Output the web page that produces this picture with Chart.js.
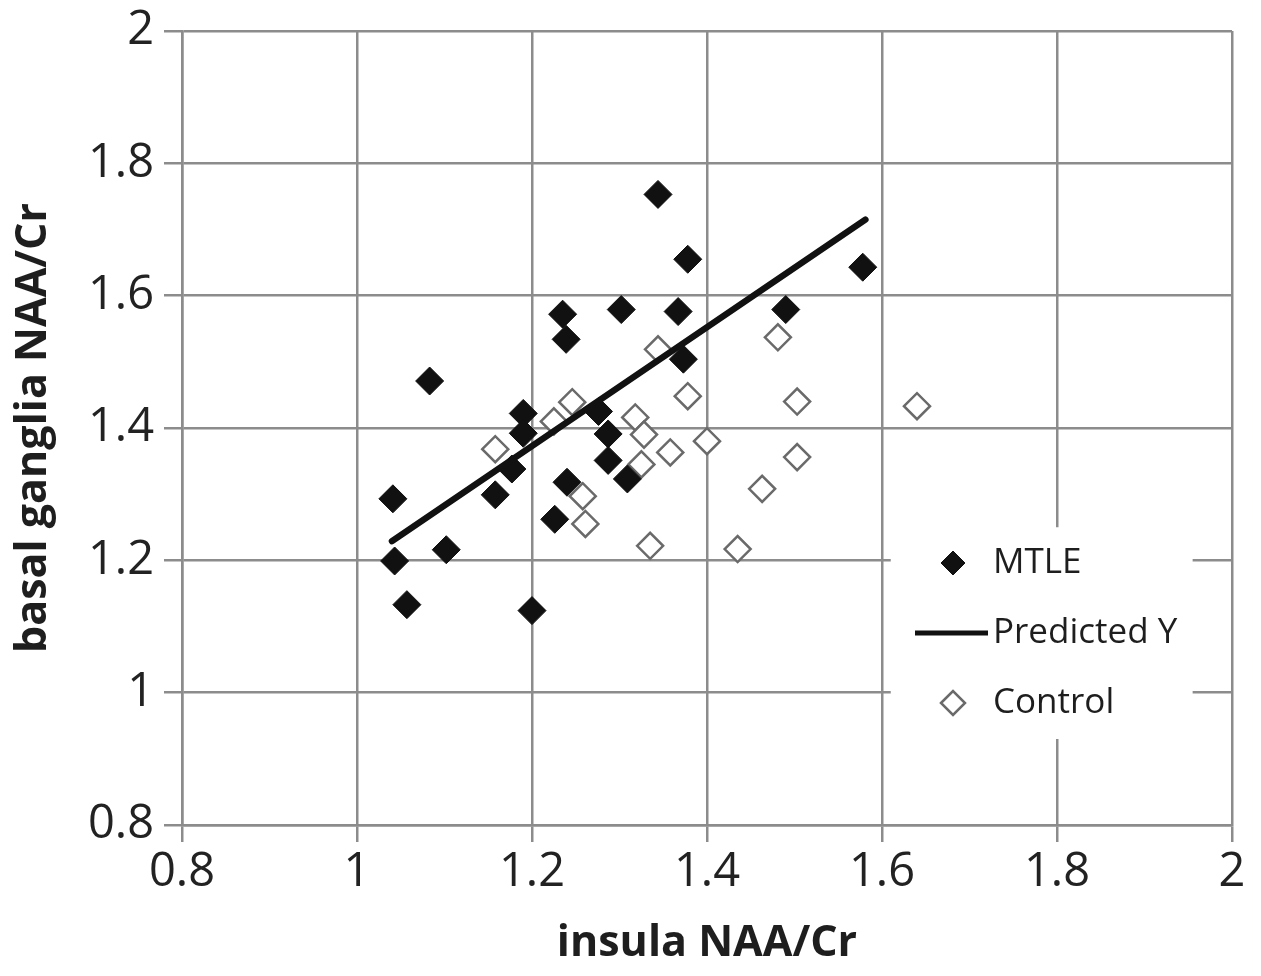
<!DOCTYPE html>
<html>
<head>
<meta charset="utf-8">
<script src="https://cdn.jsdelivr.net/npm/chart.js@4.4.1/dist/chart.umd.min.js"></script>
<style>
  html, body { margin: 0; padding: 0; background: #fff; }
  #wrap { width: 1261px; height: 976px; position: relative; }
</style>
</head>
<body>
<div id="wrap"><canvas id="chart"></canvas></div>
<script>
// MTLE patients (filled diamonds)
var mtleX = [1.041, 1.043, 1.057, 1.083, 1.102, 1.158, 1.177, 1.190, 1.190, 1.200, 1.226, 1.235, 1.239,
             1.240, 1.276, 1.287, 1.287, 1.302, 1.309, 1.344, 1.367, 1.373, 1.378, 1.490, 1.578];
var mtleY = [1.293, 1.199, 1.133, 1.471, 1.216, 1.299, 1.338, 1.422, 1.392, 1.124, 1.262, 1.572, 1.534,
             1.318, 1.425, 1.391, 1.351, 1.579, 1.323, 1.753, 1.576, 1.504, 1.655, 1.579, 1.643];

// Controls (open diamonds)
var controlX = [1.158, 1.225, 1.246, 1.258, 1.261, 1.318, 1.328, 1.325, 1.358, 1.400, 1.344, 1.378,
                1.481, 1.503, 1.503, 1.463, 1.335, 1.435, 1.640];
var controlY = [1.368, 1.410, 1.439, 1.297, 1.255, 1.416, 1.390, 1.345, 1.363, 1.380, 1.519, 1.448,
                1.537, 1.440, 1.356, 1.308, 1.222, 1.217, 1.433];

// Regression line ends (Predicted Y)
var predX = [1.040, 1.581];
var predY = [1.229, 1.715];

var axisTicks = [0.8, 1, 1.2, 1.4, 1.6, 1.8, 2];

function toPoints(xs, ys) {
    return xs.map(function(x, i) { return { x: x, y: ys[i] }; });
}

var gridGray = '#8c8c8c';
var tickFont = { family: 'Open Sans', size: 47 };
var titleFont = { family: 'Open Sans', size: 43, weight: 'bold' };

// legend drawn inside the plot, on a white box, like the original
var boxLegend = {
    id: 'boxLegend',
    afterDraw: function(chart) {
        var ctx = chart.ctx;
        var xs = chart.scales.x, ys = chart.scales.y;
        var left = xs.getPixelForValue(1.61), right = xs.getPixelForValue(1.955);
        var top = ys.getPixelForValue(1.25), bottom = ys.getPixelForValue(0.93);
        ctx.save();
        ctx.fillStyle = '#fff';
        ctx.fillRect(left, top, right - left, bottom - top);
        var rows = [563, 633, 703];
        var order = [0, 2, 1];
        ctx.font = '35px "Open Sans"';
        ctx.textBaseline = 'middle';
        order.forEach(function(di, i) {
            var ds = chart.data.datasets[di];
            var y = rows[i];
            if (ds.showLine) {
                ctx.strokeStyle = ds.borderColor;
                ctx.lineWidth = 5;
                ctx.beginPath();
                ctx.moveTo(915, y);
                ctx.lineTo(988, y);
                ctx.stroke();
            } else {
                ctx.fillStyle = ds.backgroundColor;
                ctx.strokeStyle = ds.borderColor;
                ctx.lineWidth = ds.borderWidth;
                Chart.helpers.drawPoint(ctx, { pointStyle: 'rectRot', radius: 12, borderWidth: ds.borderWidth }, 953, y);
            }
            ctx.fillStyle = '#1e1e1e';
            ctx.fillText(ds.label, 993, y);
        });
        ctx.restore();
    }
};

new Chart(document.getElementById('chart'), {
    type: 'scatter',
    data: {
        datasets: [{
            label: 'MTLE',
            data: toPoints(mtleX, mtleY),
            pointStyle: 'rectRot',
            pointRadius: 14,
            backgroundColor: '#111',
            borderColor: '#111',
            borderWidth: 1,
            order: 2
        }, {
            label: 'Control',
            data: toPoints(controlX, controlY),
            pointStyle: 'rectRot',
            pointRadius: 13,
            backgroundColor: '#fff',
            borderColor: '#6a6a6a',
            borderWidth: 2.5,
            order: 3
        }, {
            label: 'Predicted Y',
            data: toPoints(predX, predY),
            showLine: true,
            borderColor: '#111',
            borderWidth: 6.5,
            pointRadius: 0,
            borderCapStyle: 'round',
            order: 1
        }]
    },
    options: {
        responsive: true,
        maintainAspectRatio: false,
        animation: false,
        layout: { padding: { top: 31, right: 29, left: 0, bottom: 0 } },
        plugins: {
            legend: { display: false },
            tooltip: { enabled: false }
        },
        scales: {
            x: {
                type: 'linear',
                min: 0.8,
                max: 2,
                afterBuildTicks: function(scale) {
                    scale.ticks = axisTicks.map(function(v) { return { value: v }; });
                },
                afterFit: function(scale) {
                    scale.height = 151;
                    scale.paddingLeft = 0;
                    scale.paddingRight = 0;
                },
                ticks: {
                    color: '#222',
                    font: tickFont,
                    padding: 2,
                    maxRotation: 0,
                    callback: function(v) { return String(Number(v.toFixed(1))); }
                },
                grid: { color: gridGray, lineWidth: 2.5, tickLength: 17, tickColor: gridGray },
                border: { color: gridGray, width: 2.5 },
                title: {
                    display: true,
                    text: 'insula NAA/Cr',
                    color: '#1e1e1e',
                    font: titleFont,
                    padding: { top: 0, bottom: 6 }
                }
            },
            y: {
                type: 'linear',
                min: 0.8,
                max: 2,
                afterBuildTicks: function(scale) {
                    scale.ticks = axisTicks.map(function(v) { return { value: v }; });
                },
                afterFit: function(scale) {
                    scale.width = 182;
                    scale.paddingTop = 0;
                    scale.paddingBottom = 0;
                },
                ticks: {
                    color: '#222',
                    font: tickFont,
                    padding: 10,
                    callback: function(v) { return String(Number(v.toFixed(1))); }
                },
                grid: { color: gridGray, lineWidth: 2.5, tickLength: 18, tickColor: gridGray },
                border: { color: gridGray, width: 2.5 },
                title: {
                    display: true,
                    text: 'basal ganglia NAA/Cr',
                    color: '#1e1e1e',
                    font: titleFont,
                    padding: { top: 8, bottom: 0 }
                }
            }
        }
    },
    plugins: [boxLegend]
});
</script>
</body>
</html>
